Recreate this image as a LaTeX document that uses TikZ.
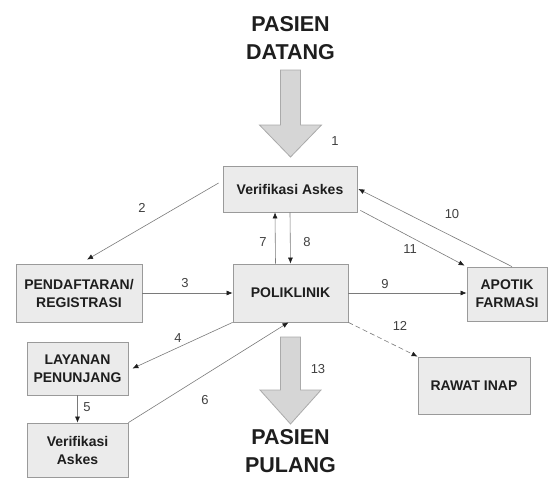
\documentclass[tikz,border=0pt]{standalone}
\usepackage{fontspec}
\setmainfont{Liberation Sans}
\usetikzlibrary{arrows.meta}
\definecolor{boxfill}{HTML}{EBEBEB}
\definecolor{boxline}{HTML}{9A9A9A}
\definecolor{bigfill}{HTML}{D6D6D6}
\definecolor{bigline}{HTML}{AAAAAA}
\definecolor{linecol}{HTML}{7A7A7A}
\definecolor{txt}{HTML}{1E1E1E}
\tikzset{
  procbox/.style={draw=boxline, fill=boxfill, line width=0.8pt, inner sep=0pt,
    align=center, text=txt, font=\fontsize{14}{18}\selectfont\bfseries},
  conn/.style={draw=linecol, line width=0.6pt, -{Latex[length=6pt,width=5pt,color=txt]}},
  numlbl/.style={text=txt!85, font=\fontsize{13}{15}\selectfont, inner sep=0pt},
  bigtxt/.style={text=txt, align=center, inner sep=0pt, font=\fontsize{21.5}{28.5}\selectfont\bfseries},
  blockarrow/.style={draw=bigline, fill=bigfill, line width=0.8pt, line join=miter}
}
\begin{document}
\begin{tikzpicture}[x=1pt,y=-1pt]
\useasboundingbox (0,0) rectangle (550,480);
% titles
\node[bigtxt] (datang) at (290.5,38) {PASIEN\\DATANG};
\node[bigtxt] (pulang) at (290.5,451) {PASIEN\\PULANG};
% block arrows
\draw[blockarrow] (280.5,70) -- (300.5,70) -- (300.5,125) -- (321.5,125) -- (290.5,157)
  -- (259.5,125) -- (280.5,125) -- cycle;
\draw[blockarrow] (280.5,337) -- (300.5,337) -- (300.5,390) -- (321,390) -- (290.5,424)
  -- (260,390) -- (280.5,390) -- cycle;
% boxes
\node[procbox, minimum width=134pt, minimum height=46pt] (va) at (290,189) {Verifikasi Askes};
\node[procbox, minimum width=126pt, minimum height=58pt] (pend) at (79,293) {PENDAFTARAN/\\REGISTRASI};
\node[procbox, minimum width=115pt, minimum height=58pt] (poli) at (290.5,293) {POLIKLINIK};
\node[procbox, minimum width=80pt, minimum height=54pt] (apot) at (507,294) {APOTIK\\FARMASI};
\node[procbox, minimum width=101pt, minimum height=53pt] (lay) at (77.5,368.5) {LAYANAN\\PENUNJANG};
\node[procbox, minimum width=101pt, minimum height=54pt] (va2) at (77.5,450) {Verifikasi\\Askes};
\node[procbox, minimum width=112pt, minimum height=57pt] (rawat) at (474,385.5) {RAWAT INAP};
% connectors
\draw[conn] ([xshift=-4pt,yshift=6pt]va.west) -- ([xshift=8pt,yshift=4pt]pend.north);
\draw[conn] (pend.east) -- (poli.west);
\draw[conn] (poli.south west) -- ([xshift=4pt]lay.east);
\draw[conn] (lay.south) -- (va2.north);
\draw[conn] (va2.north east) -- ([xshift=-2pt]poli.south);
\draw[conn] ([xshift=-15pt]poli.north) -- ([xshift=-15pt]va.south);
\draw[conn] (va.south) -- (poli.north);
\draw[conn] (poli.east) -- (poli.east -| apot.west);
\draw[conn] ([xshift=5pt]apot.north) -- ([xshift=1pt]va.east);
\draw[conn] ([xshift=3pt,yshift=2pt]va.south east) -- ([xshift=-2pt,yshift=1pt]apot.north west);
\draw[conn, dash pattern=on 5pt off 3pt] (poli.south east) -- (rawat.north west);
% labels
\node[numlbl] (l1) at (335,141) {1};
\node[numlbl] (l2) at (142,208) {2};
\node[numlbl] (l3) at (185,283) {3};
\node[numlbl] (l4) at (178,338) {4};
\node[numlbl] (l5) at (87,407) {5};
\node[numlbl] (l6) at (205,400) {6};
\node[numlbl] (l7) at (263,242) {7};
\node[numlbl] (l8) at (307,242) {8};
\node[numlbl] (l9) at (385,284) {9};
\node[numlbl] (l10) at (452,214) {10};
\node[numlbl] (l11) at (410,249) {11};
\node[numlbl] (l12) at (400,326) {12};
\node[numlbl] (l13) at (318,369) {13};
\end{tikzpicture}
\end{document}
